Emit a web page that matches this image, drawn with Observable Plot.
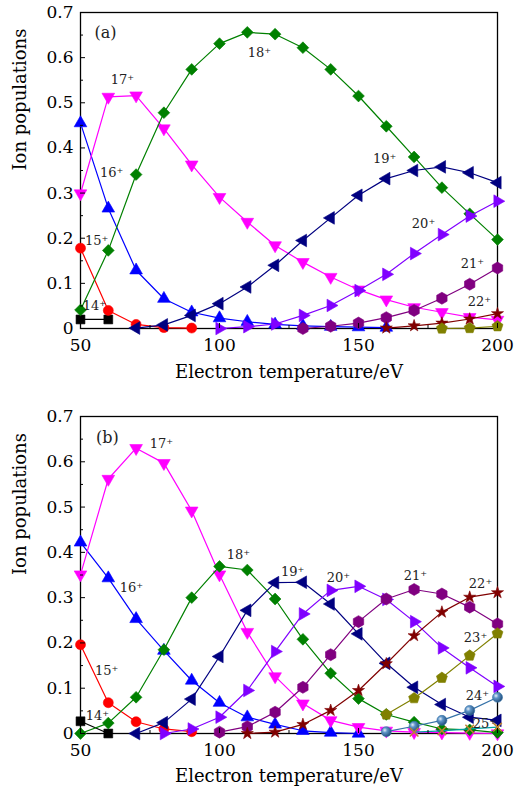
<!DOCTYPE html>
<html><head><meta charset="utf-8">
<script src="https://cdn.jsdelivr.net/npm/d3@7"></script>
<script src="https://cdn.jsdelivr.net/npm/@observablehq/plot@0.6"></script>
<style>body{margin:0;background:#fff} svg{display:block} #chart{width:518px}</style>
</head><body><div id="chart"></div>
<script>
// ---- data ----
const temperatures = [50,60,70,80,90,100,110,120,130,140,150,160,170,180,190,200];
const ionNames = ["14","15","16","17","18","19","20","21","22","23","24","25"];

// panel (a)
const popA14 = [0.020,0.020,null,null,null,null,null,null,null,null,null,null,null,null,null,null];
const popA15 = [0.178,0.040,0.009,0.002,0.001,null,null,null,null,null,null,null,null,null,null,null];
const popA16 = [0.455,0.266,0.129,0.066,0.036,0.023,0.015,0.009,0.006,0.004,0.003,0.002,null,null,null,null];
const popA17 = [0.299,0.513,0.516,0.443,0.363,0.291,0.236,0.184,0.147,0.114,0.086,0.064,0.047,0.036,0.025,0.019];
const popA18 = [0.041,0.173,0.341,0.478,0.574,0.631,0.656,0.652,0.622,0.574,0.515,0.448,0.380,0.312,0.254,0.197];
const popA19 = [null,null,0.001,0.008,0.029,0.055,0.092,0.140,0.195,0.245,0.295,0.332,0.350,0.358,0.345,0.323];
const popA20 = [null,null,null,null,null,0.000,0.004,0.010,0.029,0.051,0.084,0.120,0.166,0.208,0.249,0.282];
const popA21 = [null,null,null,null,null,null,null,null,0.000,0.005,0.012,0.024,0.040,0.067,0.098,0.134];
const popA22 = [null,null,null,null,null,null,null,null,null,null,null,0.001,0.006,0.012,0.021,0.033];
const popA23 = [null,null,null,null,null,null,null,null,null,null,null,null,null,0.000,0.001,0.005];

// panel (b)
const popB14 = [0.027,0.000,null,null,null,null,null,null,null,null,null,null,null,null,null,null];
const popB15 = [0.196,0.068,0.026,0.010,0.004,null,null,null,null,null,null,null,null,null,null,null];
const popB16 = [0.422,0.343,0.253,0.183,0.117,0.068,0.036,0.020,0.006,0.002,0.000,null,null,null,null,null];
const popB17 = [0.351,0.562,0.630,0.597,0.492,0.351,0.224,0.126,0.066,0.029,0.014,0.006,0.003,0.002,0.001,0.000];
const popB18 = [0.000,0.023,0.080,0.185,0.300,0.369,0.361,0.297,0.208,0.133,0.077,0.042,0.025,0.010,0.008,0.002];
const popB19 = [null,null,0.000,0.024,0.076,0.170,0.272,0.333,0.334,0.286,0.220,0.155,0.102,0.064,0.036,0.029];
const popB20 = [null,null,null,0.000,0.010,0.036,0.095,0.181,0.264,0.316,0.325,0.296,0.247,0.189,0.145,0.104];
const popB21 = [null,null,null,null,null,0.003,0.015,0.047,0.102,0.174,0.247,0.297,0.318,0.308,0.279,0.242];
const popB22 = [null,null,null,null,null,null,0.000,0.003,0.020,0.051,0.095,0.154,0.216,0.268,0.301,0.311];
const popB23 = [null,null,null,null,null,null,null,null,null,null,null,0.042,0.078,0.123,0.172,0.221];
const popB24 = [null,null,null,null,null,null,null,null,null,null,null,0.004,0.016,0.029,0.051,0.080];
const popB25 = [null,null,null,null,null,null,null,null,null,null,null,null,0.003,0.006,0.010,0.014];

// labels
const labelTextA = ["(a)","17⁺","18⁺","16⁺","15⁺","14⁺","19⁺","20⁺","21⁺","22⁺"];
const labelTA    = [59.0, 65.1, 114.4, 61.2, 55.8, 55.0, 159.4, 173.4, 191.0, 193.5];
const labelVA    = [0.654, 0.550, 0.610, 0.344, 0.195, 0.051, 0.375, 0.231, 0.144, 0.058];
const labelTextB = ["(b)","17⁺","16⁺","18⁺","15⁺","14⁺","19⁺","20⁺","21⁺","22⁺","23⁺","24⁺","25⁺"];
const labelTB    = [59.7, 79.1, 68.3, 106.8, 59.4, 56.1, 126.3, 142.8, 170.5, 193.9, 192.1, 192.8, 195.3];
const labelVB    = [0.653, 0.640, 0.322, 0.395, 0.139, 0.040, 0.358, 0.344, 0.349, 0.331, 0.212, 0.084, 0.022];

const xMajor = [50,100,150,200];
const xMinor = [75,125,175];
const yMajor = [0,0.1,0.2,0.3,0.4,0.5,0.6,0.7];
const yMinor = [0.05,0.15,0.25,0.35,0.45,0.55,0.65];

// ---- styles ----
const pentagon = {
  draw(ctx, size) {
    const R = Math.sqrt(size / Math.PI) * 1.15;
    for (let i = 0; i < 5; i++) {
      const a = -Math.PI / 2 + i * 2 * Math.PI / 5;
      const px = R * Math.cos(a), py = R * Math.sin(a);
      if (i) ctx.lineTo(px, py); else ctx.moveTo(px, py);
    }
    ctx.closePath();
  }
};
const styles = {
  "14": {color:"#000000", symbol:"square", r:5.0, rotate:0},
  "15": {color:"#ff0000", symbol:"circle", r:5.0, rotate:0},
  "16": {color:"#0000ff", symbol:"triangle", r:4.7, rotate:0},
  "17": {color:"#ff00ff", symbol:"triangle", r:4.7, rotate:180},
  "18": {color:"#008000", symbol:"diamond2", r:5.3, rotate:0},
  "19": {color:"#000080", symbol:"triangle", r:4.7, rotate:-90},
  "20": {color:"#8000ff", symbol:"triangle", r:4.7, rotate:90},
  "21": {color:"#800080", symbol:"hexagon", r:5.2, rotate:0},
  "22": {color:"#800000", symbol:"star", r:3.8, rotate:0},
  "23": {color:"#808000", symbol:pentagon, r:5.0, rotate:0},
  "24": {color:"#3572a8", symbol:"circle", r:5.0, rotate:0, fill:"url(#ballGrad)"},
  "25": {color:"#00a0a0", symbol:"times", r:4.0, rotate:0, markColor:"#c08030"}
};

const FONT = "DejaVu Serif";

function rows(values) {
  return temperatures.map((t, i) => ({t, v: values[i]})).filter(d => d.v != null);
}

function panel(series, labels, {height, marginTop, marginBottom, labelOffsetX}) {
  const marks = [Plot.frame({stroke:"black", strokeWidth:1.3})];
  series.forEach(([ion, vals]) => {
    const s = styles[ion];
    const data = rows(vals);
    marks.push(Plot.line(data, {x:"t", y:"v", stroke:s.color, strokeWidth:1.2}));
    const mc = s.markColor || s.color;
    marks.push(Plot.dot(data, {x:"t", y:"v", symbol:s.symbol, r:s.r, rotate:s.rotate,
      fill: s.symbol === "times" ? "none" : (s.fill || mc), stroke: mc, strokeWidth: s.symbol === "times" ? 1.5 : 0.6}));
  });
  const [texts, ts, vs] = labels;
  const lab = texts.map((text, i) => ({text, t: ts[i], v: vs[i]}));
  marks.push(Plot.text(lab, {x:"t", y:"v", text:"text", fontSize: d => d.text.startsWith("(") ? 16 : 13, fill:"#222", fontFamily:FONT}));
  marks.push(
    Plot.axisX(xMajor, {tickSize:0, tickPadding:10, tickFormat:d => String(d), fontSize:17,
      label:null}),
    Plot.axisX(xMajor, {tickSize:0, fill:"none", fontSize:18, tickFormat:() => "",
      label:"Electron temperature/eV", labelAnchor:"center", labelOffset:labelOffsetX, labelArrow:"none"}),
    Plot.axisX(xMajor, {tickSize:-5, fill:"none", label:null}),
    Plot.axisX(xMinor, {tickSize:-3, fill:"none", label:null}),
    Plot.axisY(yMajor, {tickSize:0, tickPadding:7, tickFormat:d => String(d), fontSize:17, label:null}),
    Plot.axisY(yMajor, {tickSize:-5, fill:"none", label:null}),
    Plot.axisY(yMinor, {tickSize:-3, fill:"none", label:null})
  );
  // axis titles as text marks anchored to the frame
  marks.push(
    Plot.text(["Electron temperature/eV"], {frameAnchor:"bottom", dy:labelOffsetX - 3, lineAnchor:"bottom", fontSize:18, fontFamily:FONT, fill:"black"}),
    Plot.text(["Ion populations"], {frameAnchor:"left", dx:-60, rotate:-90, fontSize:18, fontFamily:FONT, fill:"black"})
  );
  return Plot.plot({
    width:518, height, marginLeft:80, marginRight:21, marginTop, marginBottom,
    x:{domain:[50,200]}, y:{domain:[0,0.7]},
    style:{fontFamily:FONT, fontSize:"16px", color:"black", background:"white"},
    marks
  });
}

const seriesA = [["14",popA14],["15",popA15],["16",popA16],["17",popA17],["18",popA18],["19",popA19],["20",popA20],["21",popA21],["22",popA22],["23",popA23]];
const seriesB = [["14",popB14],["15",popB15],["16",popB16],["17",popB17],["18",popB18],["19",popB19],["20",popB20],["21",popB21],["22",popB22],["23",popB23],["24",popB24],["25",popB25]];

const chartA = panel(seriesA, [labelTextA, labelTA, labelVA], {height:395, marginTop:12, marginBottom:67, labelOffsetX:52});
const chartB = panel(seriesB, [labelTextB, labelTB, labelVB], {height:394, marginTop:21, marginBottom:56, labelOffsetX:51});

// ball gradient for 24+
const defs = d3.select(chartB).insert("defs", ":first-child");
const g = defs.append("radialGradient").attr("id","ballGrad").attr("cx","35%").attr("cy","35%").attr("r","70%");
g.append("stop").attr("offset","0%").attr("stop-color","#e8f0f8");
g.append("stop").attr("offset","35%").attr("stop-color","#5f95c8");
g.append("stop").attr("offset","100%").attr("stop-color","#1d4a78");

document.getElementById("chart").append(chartA, chartB);
</script>
</body></html>
